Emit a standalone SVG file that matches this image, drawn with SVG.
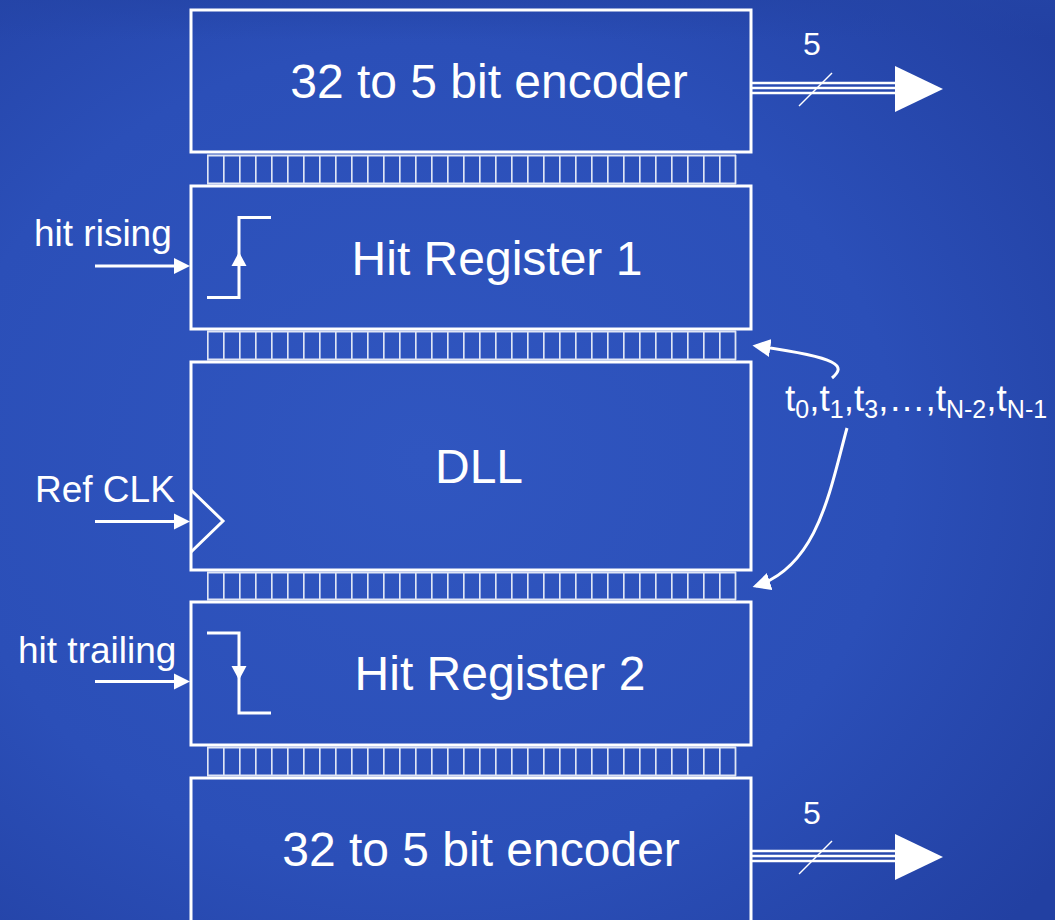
<svg xmlns="http://www.w3.org/2000/svg" width="1055" height="920" viewBox="0 0 1055 920">
<defs>
<radialGradient id="bg" cx="0.4" cy="0.5" r="0.75">
<stop offset="0" stop-color="#3056c0"/>
<stop offset="0.6" stop-color="#2b4fb8"/>
<stop offset="1" stop-color="#2240a2"/>
</radialGradient>
<linearGradient id="topband" x1="0" y1="0" x2="0" y2="1">
<stop offset="0" stop-color="#2444a6" stop-opacity="0.7"/>
<stop offset="1" stop-color="#2444a6" stop-opacity="0"/>
</linearGradient>
<pattern id="cells" x="207" y="0" width="16" height="920" patternUnits="userSpaceOnUse">
<line x1="0.75" y1="0" x2="0.75" y2="920" stroke="#dfe5f5" stroke-width="1.8"/>
</pattern>
<marker id="ah2" viewBox="0 0 10 10" refX="8" refY="5" markerWidth="6" markerHeight="6" orient="auto" markerUnits="strokeWidth">
<path d="M0,0 L10,5 L0,10 z" fill="#fff"/>
</marker>
</defs>
<style>
.box{fill:none;stroke:#fff;stroke-width:3}
.t{fill:#fff;font-family:"Liberation Sans",Arial,sans-serif}
.big{font-size:48px}
.lbl{font-size:37px}
.w{stroke:#fff;fill:none}
.bus{fill:none;stroke:#dfe5f5;stroke-width:1.8}
</style>
<rect width="1055" height="920" fill="url(#bg)"/>
<rect width="1055" height="40" fill="url(#topband)"/>

<g id="bus1"><rect x="207" y="155" width="528" height="29" fill="url(#cells)"/><line x1="735.5" y1="155" x2="735.5" y2="184" class="bus"/><line x1="207" y1="155.5" x2="736" y2="155.5" class="bus"/><line x1="207" y1="183.5" x2="736" y2="183.5" class="bus"/></g>
<g id="bus2"><rect x="207" y="331" width="528" height="29" fill="url(#cells)"/><line x1="735.5" y1="331" x2="735.5" y2="360" class="bus"/><line x1="207" y1="331.5" x2="736" y2="331.5" class="bus"/><line x1="207" y1="359.5" x2="736" y2="359.5" class="bus"/></g>
<g id="bus3"><rect x="207" y="572" width="528" height="28" fill="url(#cells)"/><line x1="735.5" y1="572" x2="735.5" y2="600" class="bus"/><line x1="207" y1="572.5" x2="736" y2="572.5" class="bus"/><line x1="207" y1="599.5" x2="736" y2="599.5" class="bus"/></g>
<g id="bus4"><rect x="207" y="747" width="528" height="29" fill="url(#cells)"/><line x1="735.5" y1="747" x2="735.5" y2="776" class="bus"/><line x1="207" y1="747.5" x2="736" y2="747.5" class="bus"/><line x1="207" y1="775.5" x2="736" y2="775.5" class="bus"/></g>

<g id="encoder-top">
<rect class="box" x="191" y="10" width="560" height="142"/>
<text class="t big" x="489" y="98" text-anchor="middle">32 to 5 bit encoder</text>
</g>
<g id="hit-register-1">
<rect class="box" x="191" y="186" width="560" height="143"/>
<path class="w" stroke-width="3" d="M207,297.5 H239 V217.5 H271"/>
<path d="M231.5,266 L239,252 L246.5,266 z" fill="#fff"/>
<text class="t big" x="497" y="275" text-anchor="middle">Hit Register 1</text>
</g>
<g id="dll">
<rect class="box" x="191" y="362" width="560" height="208"/>
<path class="w" stroke-width="3" d="M191,490 L223,521 L191,552"/>
<text class="t big" x="479" y="483" text-anchor="middle">DLL</text>
</g>
<g id="hit-register-2">
<rect class="box" x="191" y="602" width="560" height="143"/>
<path class="w" stroke-width="3" d="M207,633 H239 V713 H271"/>
<path d="M231.5,666 L239,680 L246.5,666 z" fill="#fff"/>
<text class="t big" x="500" y="690" text-anchor="middle">Hit Register 2</text>
</g>
<g id="encoder-bottom">
<rect class="box" x="191" y="778" width="560" height="160"/>
<text class="t big" x="481" y="866" text-anchor="middle">32 to 5 bit encoder</text>
</g>

<g id="labels">
<text class="t lbl" x="34" y="246">hit rising</text>
<text class="t lbl" x="35" y="502">Ref CLK</text>
<text class="t lbl" x="18" y="663">hit trailing</text>
<text class="t" font-size="37" x="785" y="411">t<tspan font-size="25" dy="7">0</tspan><tspan dy="-7">,t</tspan><tspan font-size="25" dy="7">1</tspan><tspan dy="-7">,t</tspan><tspan font-size="25" dy="7">3</tspan><tspan dy="-7">,…,t</tspan><tspan font-size="25" dy="7">N-2</tspan><tspan dy="-7">,t</tspan><tspan font-size="25" dy="7">N-1</tspan></text>
<text class="t" font-size="32" x="812" y="55" text-anchor="middle">5</text>
<text class="t" font-size="32" x="812" y="824" text-anchor="middle">5</text>
</g>

<g id="connectors">
<g stroke="#fff" stroke-width="3" fill="none">
<line x1="95" y1="266" x2="178" y2="266"/>
<line x1="95" y1="521.5" x2="178" y2="521.5"/>
<line x1="95" y1="681.5" x2="178" y2="681.5"/>
</g>
<path d="M174,258 L190,266 L174,274 z" fill="#fff"/>
<path d="M174,513.5 L190,521.5 L174,529.5 z" fill="#fff"/>
<path d="M174,673.5 L190,681.5 L174,689.5 z" fill="#fff"/>

<g stroke="#fff" stroke-width="2.5">
<line x1="751" y1="83" x2="897" y2="83"/>
<line x1="751" y1="88" x2="897" y2="88"/>
<line x1="751" y1="93" x2="897" y2="93"/>
<line x1="799" y1="106" x2="832" y2="73" stroke-width="1.5"/>
<line x1="751" y1="851" x2="897" y2="851"/>
<line x1="751" y1="856" x2="897" y2="856"/>
<line x1="751" y1="861" x2="897" y2="861"/>
<line x1="799" y1="874" x2="832" y2="841" stroke-width="1.5"/>
</g>
<path d="M895,66 L943,89 L895,112 z" fill="#fff"/>
<path d="M895,834 L943,857 L895,880 z" fill="#fff"/>

<path class="w" stroke-width="3" d="M832,378 C846,366 842,358 756,346" marker-end="url(#ah2)"/>
<path class="w" stroke-width="3" d="M847,428 C830,490 818,566 756,586" marker-end="url(#ah2)"/>
</g>
</svg>
